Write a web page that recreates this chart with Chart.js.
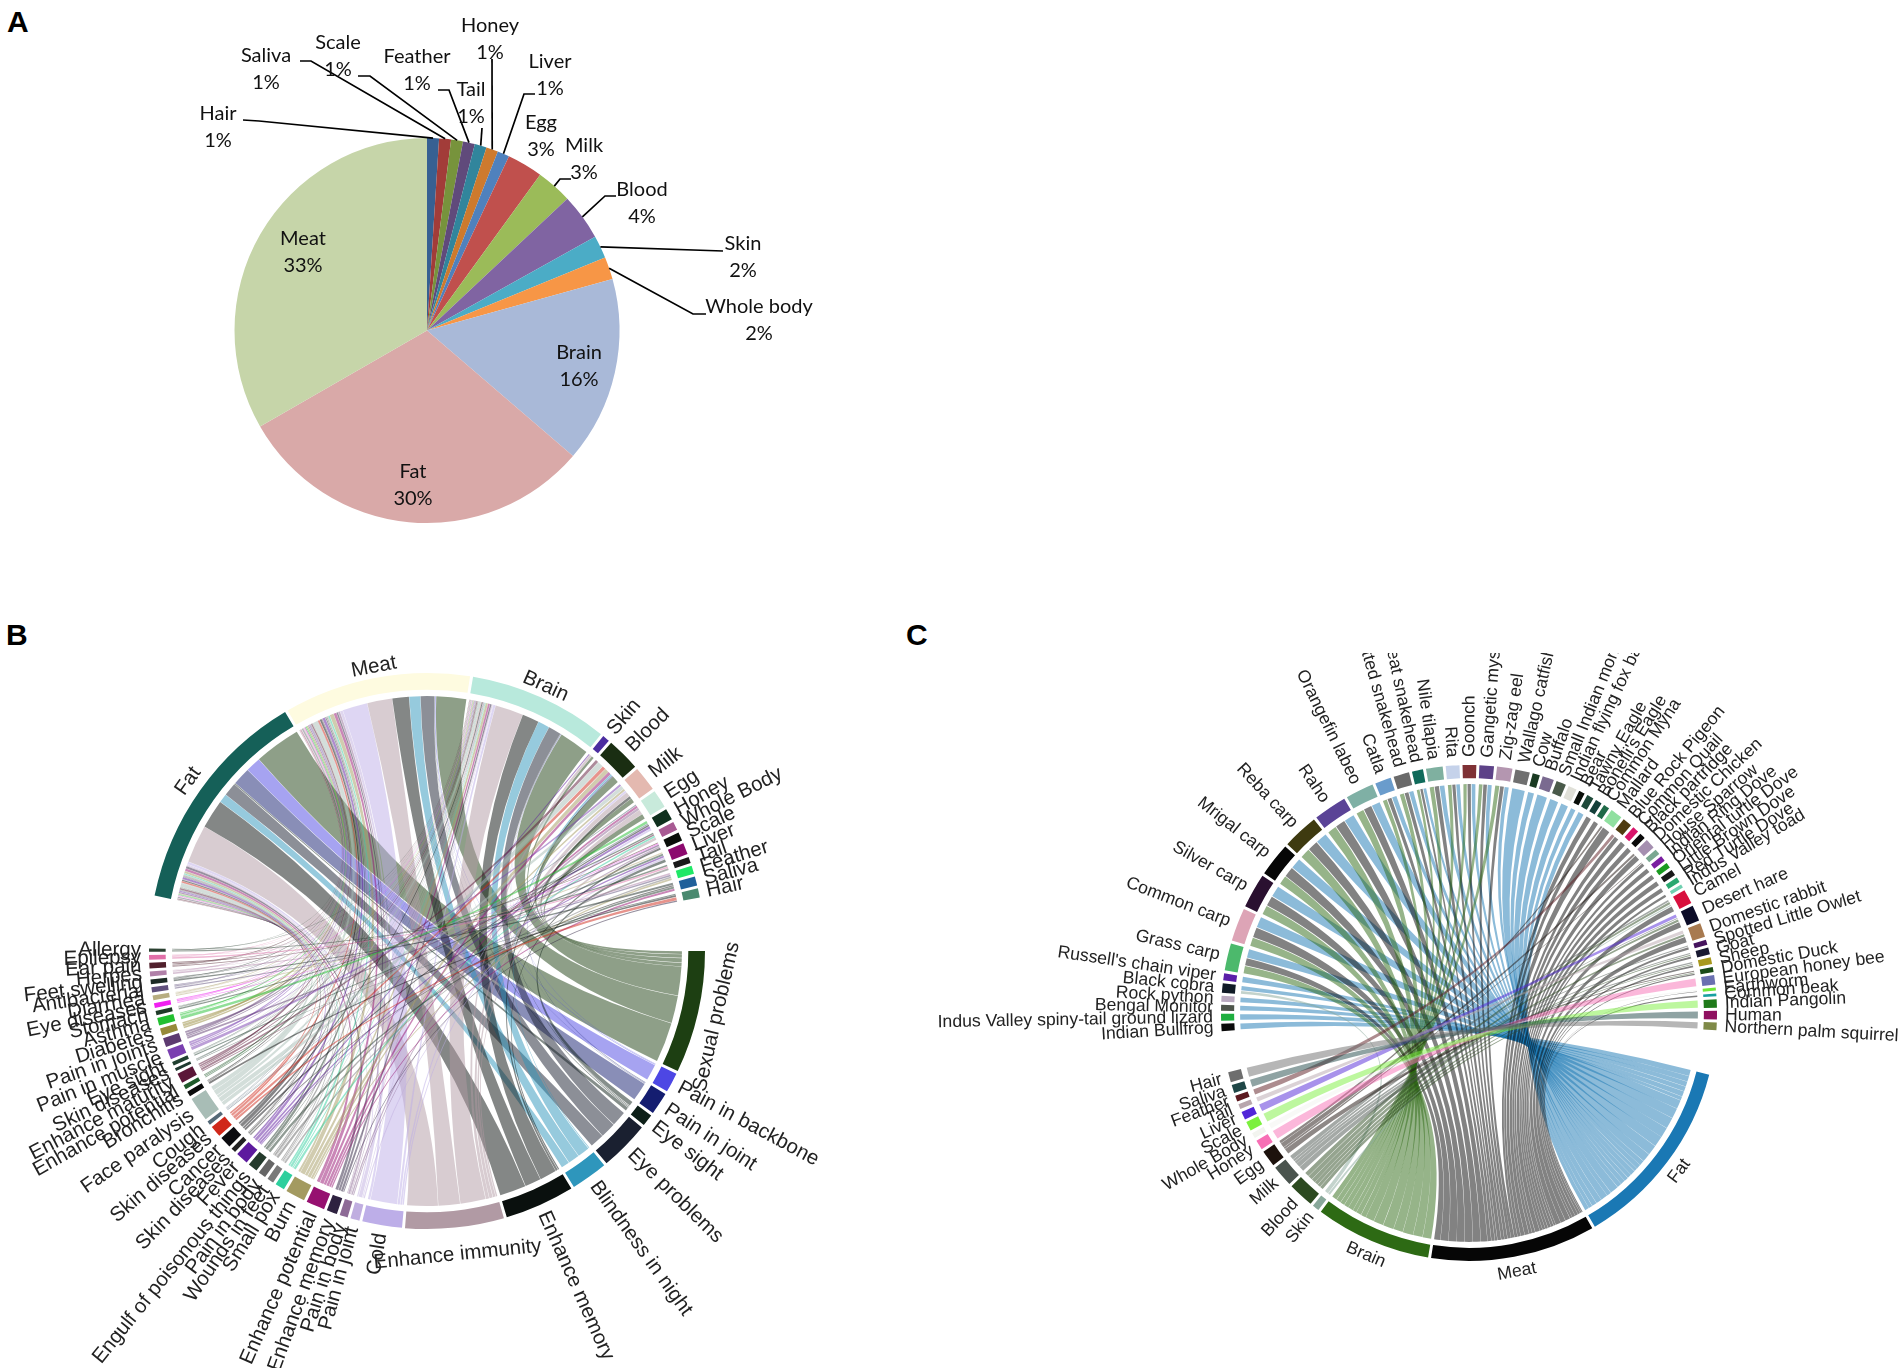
<!DOCTYPE html>
<html>
<head>
<meta charset="utf-8">
<title>Animal parts and uses</title>
<script src="https://cdn.jsdelivr.net/npm/chart.js@4"></script>
<style>
html, body { margin: 0; padding: 0; background: #fff; }
#page { position: relative; width: 1902px; height: 1368px; overflow: hidden; background: #fff; }
canvas { position: absolute; }
.letter { position: absolute; font: bold 30px "Liberation Sans", Arial, sans-serif; color: #000; line-height: 30px; }
</style>
</head>
<body>
<div id="page">
  <div class="letter" style="left:7px;top:7px">A</div>
  <div class="letter" style="left:6px;top:620px">B</div>
  <div class="letter" style="left:906px;top:620px">C</div>
  <canvas id="pieA" width="854" height="534" style="left:0;top:0"></canvas>
  <canvas id="chordB" width="854" height="834" style="left:0;top:534px"></canvas>
  <canvas id="chordC" width="982" height="715" style="left:920px;top:653px"></canvas>
</div>
<script>
// panel A
const pieNames = ['Hair', 'Saliva', 'Scale', 'Feather', 'Tail', 'Honey', 'Liver', 'Egg', 'Milk', 'Blood', 'Skin', 'Whole body', 'Brain', 'Fat', 'Meat'];
const pieValues = [1, 1, 1, 1, 1, 1, 1, 3, 3, 3.9, 1.9, 1.9, 15.6, 30.4, 33.3];
const pieColors = ['#376092', '#a23c39', '#77933c', '#604a7b', '#31859c', '#cd7a2e', '#4f81bd', '#c0504d', '#9bbb59', '#8064a2', '#4bacc6', '#f79646', '#a9b9d8', '#d9a9a8', '#c6d5a9'];

// panel B, arc sizes in degrees
const srcNamesB = ['Fat', 'Meat', 'Brain', 'Skin', 'Blood', 'Milk', 'Egg', 'Honey', 'Whole Body', 'Scale', 'Liver', 'Tail', 'Feather', 'Saliva', 'Hair'];
const srcSpansB = [47.8, 39, 29.2, 1.5, 7, 5.2, 3.8, 2.4, 1.8, 1.8, 2.4, 1.3, 1.7, 1.9, 1.9];
const srcColorsB = ['#156058', '#fefbe0', '#b8e9dc', '#4b2da0', '#1a2e12', '#e4b9b0', '#c8eadb', '#10301e', '#a85a93', '#0a0f0a', '#8c0a6e', '#1a1a1a', '#1fe866', '#20609a', '#4a8a70'];
const tgtNamesB = ['Sexual problems', 'Pain in backbone', 'Pain in joint', 'Eye sight', 'Eye problems', 'Blindness in night', 'Enhance memory', 'Enhance immunity', 'Cold', 'Pain in joint', 'Pain in body', 'Enhance memory', 'Enhance potential', 'Burn', 'Small pox', 'Wounds in feet', 'Pain in body', 'Engulf of poisonous things', 'Fever', 'Skin diseases', 'Cancer', 'Skin diseases', 'Cough', 'Face paralysis', 'Bronchitis', 'Enhance potential', 'Enhance maturity', 'Skin diseases', 'Eye sight', 'Pain in muscle', 'Pain in joints', 'Diabetes', 'Asthma', 'Stomach', 'Eye diseases', 'Diarrhea', 'Antibacterial', 'Feet swelling', 'Herpes', 'Ear pain', 'Epilepsy', 'Allergy'];
const tgtSpansB = [25.6, 4.1, 4.7, 2.5, 10.4, 7.7, 14.6, 20.6, 8.3, 1.9, 1.7, 2.2, 3.9, 4.1, 2, 1.4, 1.6, 2, 2.6, 1, 2.4, 2.4, 0.8, 5.1, 1.1, 0.9, 2.1, 0.6, 0.8, 2.1, 1.9, 1.5, 1.6, 0.9, 1, 1, 1.1, 1, 1, 1.2, 1, 0.7];
const tgtColorsB = ['#1d3f12', '#4d47e4', '#141d70', '#0d1f18', '#1a2030', '#2e96bc', '#0a100e', '#b19aa4', '#bdaee8', '#c0aee0', '#8d6a96', '#2e2240', '#961070', '#a39a60', '#2dcf9d', '#7a7a7a', '#666666', '#243a2c', '#5d1a9e', '#222222', '#0c0c10', '#d0281a', '#556a78', '#a8bdb6', '#0c0c0c', '#1f5a2a', '#5b1738', '#1f3a30', '#204030', '#7a3fb0', '#5d3a70', '#968a3a', '#22c030', '#1f3a28', '#f020f0', '#b7ad80', '#60507c', '#1c2a24', '#b080a8', '#50202c', '#e070a8', '#2a4030'];

// share of each source going to each use
const fatLinksB = [10.4, 3.4, 4, 0.3, 3, 2, 6.5, 8.5, 0.6, 0.3, 0.2, 0.5, 0.6, 0.5, 0.3, 0.2, 0.2, 0.2, 0.5, 0.1, 0.3, 0.4, 0.1, 0.9, 0.1, 0.1, 0.4, 0.1, 0.1, 0.3, 0.3, 0.2, 0.2, 0.1, 0.2, 0.1, 0.2, 0.1, 0.1, 0.2, 0.1, 0.1];
const meatLinksB = [7.2, 0.2, 0.1, 0.1, 3.3, 2.7, 4, 6, 6, 0.7, 0.5, 0.4, 0.7, 1, 0.4, 0.2, 0.3, 0.3, 0.7, 0.2, 0.5, 0.5, 0.1, 1.1, 0.1, 0.1, 0.4, 0.1, 0.1, 0.3, 0.3, 0.3, 0.3, 0.2, 0.2, 0.2, 0.2, 0.2, 0.2, 0.2, 0.2, 0.1];
const brainLinksB = [7.5, 0.1, 0.1, 0.1, 3.2, 2.9, 4.2, 7, 0.6, 0.2, 0.2, 0.4, 0.5, 0.6, 0.2, 0.1, 0.1, 0.1, 0.1, 0.1, 0.3, 0.1, 0.1, 0.6, 0.1, 0.1, 0.3, 0.1, 0.1, 0.2, 0.2, 0.2, 0.1, 0.1, 0.1, 0.1, 0.1, 0.1, 0.1, 0.1, 0.1, 0.1];
const skinLinksB = [[0, 1], [7, 1], [18, 0.5]];
const bloodLinksB = [[0, 1.2], [2, 0.2], [5, 0.3], [12, 0.5], [13, 0.7], [21, 0.6], [23, 1], [26, 0.5]];
const milkLinksB = [[0, 1], [6, 0.6], [7, 1], [8, 0.5], [13, 0.5], [23, 0.8], [29, 0.5]];
const eggLinksB = [[0, 0.8], [7, 0.8], [10, 0.4], [12, 0.4], [22, 0.2]];
const honeyLinksB = [[8, 0.4], [18, 0.5], [20, 0.3], [22, 0.3], [32, 0.5]];
const wholeLinksB = [[7, 0.5], [14, 0.4], [26, 0.3], [33, 0.3]];
const scaleLinksB = [[6, 0.4], [10, 0.3], [30, 0.3], [34, 0.2], [39, 0.2]];
const liverLinksB = [[3, 0.4], [9, 0.3], [18, 0.3], [28, 0.3], [35, 0.2]];
const tailLinksB = [[16, 0.4], [40, 0.3], [41, 0.3]];
const featherLinksB = [[13, 0.3], [15, 0.3], [36, 0.3], [38, 0.3]];
const salivaLinksB = [[12, 0.3], [17, 0.3], [19, 0.2], [37, 0.3]];
const hairLinksB = [[11, 0.2], [21, 0.5], [24, 0.3], [27, 0.2]];

// panel C
const srcNamesC = ['Fat', 'Meat', 'Brain', 'Skin', 'Blood', 'Milk', 'Egg', 'Honey', 'Whole Body', 'Scale', 'Liver', 'Tail', 'Feather', 'Saliva', 'Hair'];
const srcSpansC = [45.1, 38.6, 27.2, 1.6, 6, 5, 3.9, 2.3, 1.3, 2.2, 1.9, 1.2, 1.4, 1.9, 2.4];
const srcColorsC = ['#1a78b4', '#060606', '#2d6a14', '#88a89a', '#2c4a20', '#4a544e', '#1d120d', '#f76fb5', '#f2f4ef', '#7cf03e', '#5226d8', '#b8a6ad', '#5c1a20', '#1f4747', '#6e6e6e'];
const tgtNamesC = ['Indian Bullfrog', 'Indus Valley spiny-tail ground lizard', 'Bengal Monitor', 'Rock python', 'Black cobra', "Russell's chain viper", 'Grass carp', 'Common carp', 'Silver carp', 'Mrigal carp', 'Reba carp', 'Raho', 'Orangefin labeo', 'Catla', 'Spotted snakehead', 'Great snakehead', 'Nile tilapia', 'Rita', 'Goonch', 'Gangetic mystus', 'Zig-zag eel', 'Wallago catfish', 'Cow', 'Buffalo', 'Small Indian mongoose', 'Indian flying fox bat', 'Bear', 'Tawny Eagle', "Bonelli's Eagle", 'Common Myna', 'Mallard', 'Blue Rock Pigeon', 'Common Quail', 'Black partridge', 'Domestic Chicken', 'House Sparrow', 'Indian Ring Dove', 'Oriental turtle Dove', 'Little Brown Dove', 'Red Turtle Dove', 'Indus Valley toad', 'Camel', 'Desert hare', 'Domestic rabbit', 'Spotted Little Owlet', 'Goat', 'Sheep', 'Domestic Duck', 'European honey bee', 'Earthworm', 'Common beak', 'Indian Pangolin', 'Human', 'Northern palm squirrel'];
const tgtSpansC = [1.7, 1.6, 1.4, 1.4, 2.2, 1.6, 6.4, 7.8, 8.1, 7.9, 8.4, 7.8, 6.6, 3.8, 3.7, 2.6, 3.9, 3.2, 3.2, 3.4, 3.6, 3.4, 1.7, 2.7, 2.3, 2, 1.4, 1.6, 1.5, 1.4, 2.8, 2.2, 1.5, 1.4, 2.3, 1.3, 1.3, 1.3, 1.4, 1.2, 0.8, 3.4, 3.7, 3.3, 1.2, 1.6, 1.6, 1.2, 2.2, 0.7, 0.6, 2, 2, 1.8];
const tgtColorsC = ['#0a0a0a', '#1fae3f', '#4e554b', '#b9a9bf', '#101a26', '#5a1fa8', '#4cb96c', '#dda4b6', '#2a1030', '#060606', '#3e3a10', '#5a4396', '#7fb0a5', '#6a9ccc', '#6a6a6a', '#0f6a5a', '#7fb0a0', '#c5d2ea', '#7f3135', '#5d4288', '#b496b0', '#6f6f6f', '#1a3a22', '#7a6a90', '#4a5a4a', '#e0e0d8', '#0a0f0a', '#1f4a3a', '#14403a', '#1f6a48', '#90e0a0', '#4f3c10', '#d8146a', '#0a0a0a', '#a58fb0', '#7aa890', '#7a1fa0', '#1a9a20', '#1a1a1a', '#2aa870', '#70d0b0', '#d8103e', '#0c0c28', '#a87a50', '#46145e', '#181830', '#a8981c', '#1a4a18', '#6a70b0', '#70e838', '#18a0a0', '#1f7a1a', '#8f1060', '#7f8a48'];

const fatLinksC = [1.6, 1.5, 1.3, 1.3, 1.4, 1, 2.3, 2.7, 2.9, 2.6, 2.8, 2.6, 2.2, 1.3, 1.2, 0.9, 1.3, 1.1, 1.1, 1.2, 1.2, 2.2, 1.2, 1.8, 1.5, 1.3, 1, 1.1, 0, 0, 0, 0, 0, 0, 0, 0, 0, 0, 0, 0, 0, 0, 0, 0, 0, 0, 0, 0, 0, 0, 0, 0, 0, 0];
const meatLinksC = [0, 0, 0, 0, 0, 0, 2, 2.5, 2.6, 2.5, 2.6, 2.5, 2.1, 1.2, 1.1, 0.8, 1.2, 1, 1, 1.1, 1.1, 0, 0, 0, 0, 0, 0, 0, 1, 1, 1.3, 1.4, 1, 1, 1.5, 0.9, 0.9, 0.9, 1, 0.9, 0.7, 1.7, 1.6, 1.6, 0.8, 1, 1, 0.8, 0, 0.5, 0.4, 0, 0, 0];
const brainLinksC = [0, 0, 0, 0, 0, 0, 2, 2.2, 2.4, 2.2, 2.5, 2.3, 2, 1.2, 1.2, 0.9, 1.2, 1.1, 1, 1.1, 1.2, 0, 0, 0, 0, 0, 0, 0, 0, 0, 0, 0, 0, 0, 0, 0, 0, 0, 0, 0, 0, 0, 0, 0, 0, 0, 0, 0, 0, 0, 0, 0, 0, 0];
const skinLinksC = [[4, 1], [41, 0.6]];
const bloodLinksC = [[41, 0.8], [42, 0.8], [43, 0.7], [45, 0.6], [46, 0.6], [47, 0.6]];
const milkLinksC = [[41, 0.7], [42, 0.4], [44, 0.4], [45, 0.7], [46, 0.8]];
const eggLinksC = [[30, 0.4], [34, 0.7], [35, 0.3], [47, 0.8]];
const honeyLinksC = [[48, 1]];
const wholeLinksC = [[49, 1]];
const scaleLinksC = [[51, 1]];
const liverLinksC = [[42, 1]];
const tailLinksC = [[43, 1]];
const featherLinksC = [[31, 1]];
const salivaLinksC = [[52, 1]];
const hairLinksC = [[53, 1]];

// turn a full row into [target, weight] pairs
function pairs(row) {
    let out = [];
    row.forEach((w, i) => { if (w > 0) out.push([i, w]); });
    return out;
}

const linksB = [pairs(fatLinksB), pairs(meatLinksB), pairs(brainLinksB), skinLinksB, bloodLinksB, milkLinksB, eggLinksB, honeyLinksB, wholeLinksB, scaleLinksB, liverLinksB, tailLinksB, featherLinksB, salivaLinksB, hairLinksB];
const linksC = [pairs(fatLinksC), pairs(meatLinksC), pairs(brainLinksC), skinLinksC, bloodLinksC, milkLinksC, eggLinksC, honeyLinksC, wholeLinksC, scaleLinksC, liverLinksC, tailLinksC, featherLinksC, salivaLinksC, hairLinksC];

Chart.defaults.animation = false;

// where the pie labels and leader lines sit, canvas pixels
const pieLabelAt = [[218, 114], [266, 56], [338, 43], [417, 57], [471, 90], [490, 26], [550, 62], [541, 123], [584, 146], [642, 190], [743, 244], [759, 307], [579, 353], [413, 472], [303, 239]];
const pieLeaders = [[[243, 120], [259, 121]], [[300, 61], [311, 61]], [[358, 76], [370, 76]], [[438, 90], [449, 90]], [[482, 128]], [[492, 59]], [[535, 94], [524, 94]], null, [[571, 179], [560, 179]], [[616, 196], [605, 196]], [[723, 251]], [[706, 314], [693, 314]], null, null, null];

const pieLabelPlugin = {
    id: 'pieLabelPlugin',
    afterDatasetsDraw(chart) {
        const ctx = chart.ctx;
        const arcs = chart.getDatasetMeta(0).data;
        ctx.save();
        ctx.strokeStyle = '#000';
        ctx.lineWidth = 1.7;
        arcs.forEach((el, i) => {
            if (!pieLeaders[i]) return;
            const mid = (el.startAngle + el.endAngle) / 2;
            ctx.beginPath();
            pieLeaders[i].forEach((p, k) => { if (k === 0) ctx.moveTo(p[0], p[1]); else ctx.lineTo(p[0], p[1]); });
            ctx.lineTo(el.x + el.outerRadius * Math.cos(mid), el.y + el.outerRadius * Math.sin(mid));
            ctx.stroke();
        });
        ctx.fillStyle = '#111';
        ctx.font = '20px Lato';
        ctx.textAlign = 'center';
        ctx.textBaseline = 'middle';
        pieNames.forEach((name, i) => {
            ctx.fillText(name, pieLabelAt[i][0], pieLabelAt[i][1]);
            ctx.fillText(Math.round(pieValues[i]) + '%', pieLabelAt[i][0], pieLabelAt[i][1] + 27);
        });
        ctx.restore();
    }
};

new Chart(document.getElementById('pieA'), {
    type: 'pie',
    data: { labels: pieNames, datasets: [{ data: pieValues, backgroundColor: pieColors, borderWidth: 0 }] },
    options: {
        responsive: false,
        devicePixelRatio: 1,
        layout: { padding: { left: 234, right: 234, top: 138, bottom: 11 } },
        plugins: { legend: { display: false }, tooltip: { enabled: false } }
    },
    plugins: [pieLabelPlugin]
});

// ribbons and labels are placed from the ring's own arc elements
const chordPlugin = {
    id: 'chordPlugin',
    afterDatasetsDraw(chart, args, opts) {
        const ctx = chart.ctx;
        const arcs = chart.getDatasetMeta(0).data;
        const nt = opts.tgtNames.length;
        const tgtArc = i => arcs[2 * i];
        const srcArc = j => arcs[2 * nt + 2 * j];
        const first = arcs[0];
        const cx = first.x, cy = first.y, R = first.outerRadius;
        const rr = R * opts.ribbonRatio;
        const tgtTotal = new Array(nt).fill(0);
        opts.links.forEach(row => row.forEach(p => { tgtTotal[p[0]] += p[1]; }));

        // target ends, clockwise from the last source to the first
        const tgtEnds = {};
        for (let t = 0; t < nt; t++) {
            let a = tgtArc(t).startAngle;
            const size = tgtArc(t).endAngle - a;
            for (let s = opts.links.length - 1; s >= 0; s--) {
                const hit = opts.links[s].find(p => p[0] === t);
                if (!hit) continue;
                const w = hit[1] / tgtTotal[t] * size;
                tgtEnds[s + '_' + t] = [a, a + w];
                a += w;
            }
        }

        const trimS = opts.trimSource * Math.PI / 180;
        const trimT = opts.trimTarget * Math.PI / 180;
        ctx.save();
        opts.links.forEach((row, s) => {
            const arc = srcArc(s);
            const total = row.reduce((sum, p) => sum + p[1], 0);
            const size = arc.endAngle - arc.startAngle;
            const up = opts.ascending.includes(opts.srcNames[s]);
            let a = arc.startAngle;
            row.slice().sort((p, q) => up ? p[0] - q[0] : q[0] - p[0]).forEach(p => {
                const w = p[1] / total * size;
                const end = tgtEnds[s + '_' + p[0]];
                const t1 = Math.min(trimS, w * 0.2), t2 = Math.min(trimT, (end[1] - end[0]) * 0.2);
                const a0 = a + t1, a1 = a + w - t1, b0 = end[0] + t2, b1 = end[1] - t2;
                ctx.beginPath();
                ctx.arc(cx, cy, rr, a0, a1);
                ctx.quadraticCurveTo(cx, cy, cx + rr * Math.cos(b0), cy + rr * Math.sin(b0));
                ctx.arc(cx, cy, rr, b0, b1);
                ctx.quadraticCurveTo(cx, cy, cx + rr * Math.cos(a0), cy + rr * Math.sin(a0));
                ctx.closePath();
                ctx.globalAlpha = opts.alpha;
                ctx.fillStyle = opts.colorBy === 'target' ? opts.tgtColors[p[0]] : opts.srcColors[s];
                ctx.fill();
                a += w;
            });
        });
        ctx.globalAlpha = 1;

        // labels
        ctx.fillStyle = '#222';
        ctx.font = opts.fontSize + 'px "Liberation Sans"';
        ctx.textBaseline = 'middle';
        const names = opts.tgtNames.map((n, i) => [n, tgtArc(i)]).concat(opts.srcNames.map((n, j) => [n, srcArc(j)]));
        names.forEach(([name, el]) => {
            const mid = (el.startAngle + el.endAngle) / 2;
            // angle clockwise from the top, 0 to 2pi
            const fromTop = ((mid + Math.PI / 2) % (2 * Math.PI) + 2 * Math.PI) % (2 * Math.PI);
            ctx.save();
            if (name in opts.tangential) {
                const r = R + opts.tangential[name];
                ctx.translate(cx + r * Math.cos(mid), cy + r * Math.sin(mid));
                ctx.rotate(fromTop > Math.PI / 2 && fromTop < 1.5 * Math.PI ? mid - Math.PI / 2 : mid + Math.PI / 2);
                ctx.textAlign = 'center';
                ctx.fillText(name, 0, 0);
            } else {
                const r = R + opts.labelGap;
                ctx.translate(cx + r * Math.cos(mid), cy + r * Math.sin(mid));
                if (fromTop < Math.PI) {
                    ctx.rotate(mid);
                    ctx.textAlign = 'left';
                } else {
                    ctx.rotate(mid + Math.PI);
                    ctx.textAlign = 'right';
                }
                ctx.fillText(name, 0, 0);
            }
            ctx.restore();
        });
        ctx.restore();
    }
};

function ringData(cfg) {
    let data = [], colors = [];
    const tgtSum = cfg.tgtSpans.reduce((a, b) => a + b, 0) + cfg.gap * (cfg.tgtSpans.length - 1);
    const srcSum = cfg.srcSpans.reduce((a, b) => a + b, 0) + cfg.gap * (cfg.srcSpans.length - 1);
    const gapAfterTargets = cfg.srcStart - cfg.rotation - tgtSum;
    cfg.tgtSpans.forEach((v, i) => {
        data.push(v, i === cfg.tgtSpans.length - 1 ? gapAfterTargets : cfg.gap);
        colors.push(cfg.tgtColors[i], 'rgba(0,0,0,0)');
    });
    cfg.srcSpans.forEach((v, i) => {
        data.push(v, i === cfg.srcSpans.length - 1 ? 360 - tgtSum - gapAfterTargets - srcSum : cfg.gap);
        colors.push(cfg.srcColors[i], 'rgba(0,0,0,0)');
    });
    return { data, colors };
}

function drawChord(id, cfg, padding) {
    const ring = ringData(cfg);
    new Chart(document.getElementById(id), {
        type: 'doughnut',
        data: { datasets: [{ data: ring.data, backgroundColor: ring.colors, borderWidth: 0 }] },
        options: {
            responsive: false,
            devicePixelRatio: 1,
            rotation: cfg.rotation,
            cutout: cfg.cutout,
            layout: { padding: padding },
            plugins: { legend: { display: false }, tooltip: { enabled: false }, chordPlugin: cfg }
        },
        plugins: [chordPlugin]
    });
}

drawChord('chordB', {
    tgtNames: tgtNamesB, tgtSpans: tgtSpansB, tgtColors: tgtColorsB,
    srcNames: srcNamesB, srcSpans: srcSpansB, srcColors: srcColorsB,
    links: linksB, gap: 0.62, rotation: 90, srcStart: 281.5, cutout: '94%',
    ribbonRatio: 0.917, alpha: 0.5, colorBy: 'target', trimSource: 0.03, trimTarget: 0.05, ascending: [],
    fontSize: 20.5, labelGap: 8,
    tangential: { 'Fat': 15, 'Meat': 11, 'Brain': 12, 'Sexual problems': 19, 'Enhance immunity': 27 }
}, { left: 149, right: 149, top: 139, bottom: 139 });

drawChord('chordC', {
    tgtNames: tgtNamesC, tgtSpans: tgtSpansC, tgtColors: tgtColorsC,
    srcNames: srcNamesC, srcSpans: srcSpansC, srcColors: srcColorsC,
    links: linksC, gap: 0.7, rotation: 265.8, srcStart: 464.4, cutout: '94.7%',
    ribbonRatio: 0.923, alpha: 0.5, colorBy: 'source', trimSource: 0.03, trimTarget: 0.1, ascending: ['Fat', 'Brain'],
    fontSize: 17.6, labelGap: 8,
    tangential: { 'Fat': 15, 'Meat': 15, 'Brain': 15 }
}, { left: 301, right: 185, top: 112, bottom: 107 });
</script>
</body>
</html>
